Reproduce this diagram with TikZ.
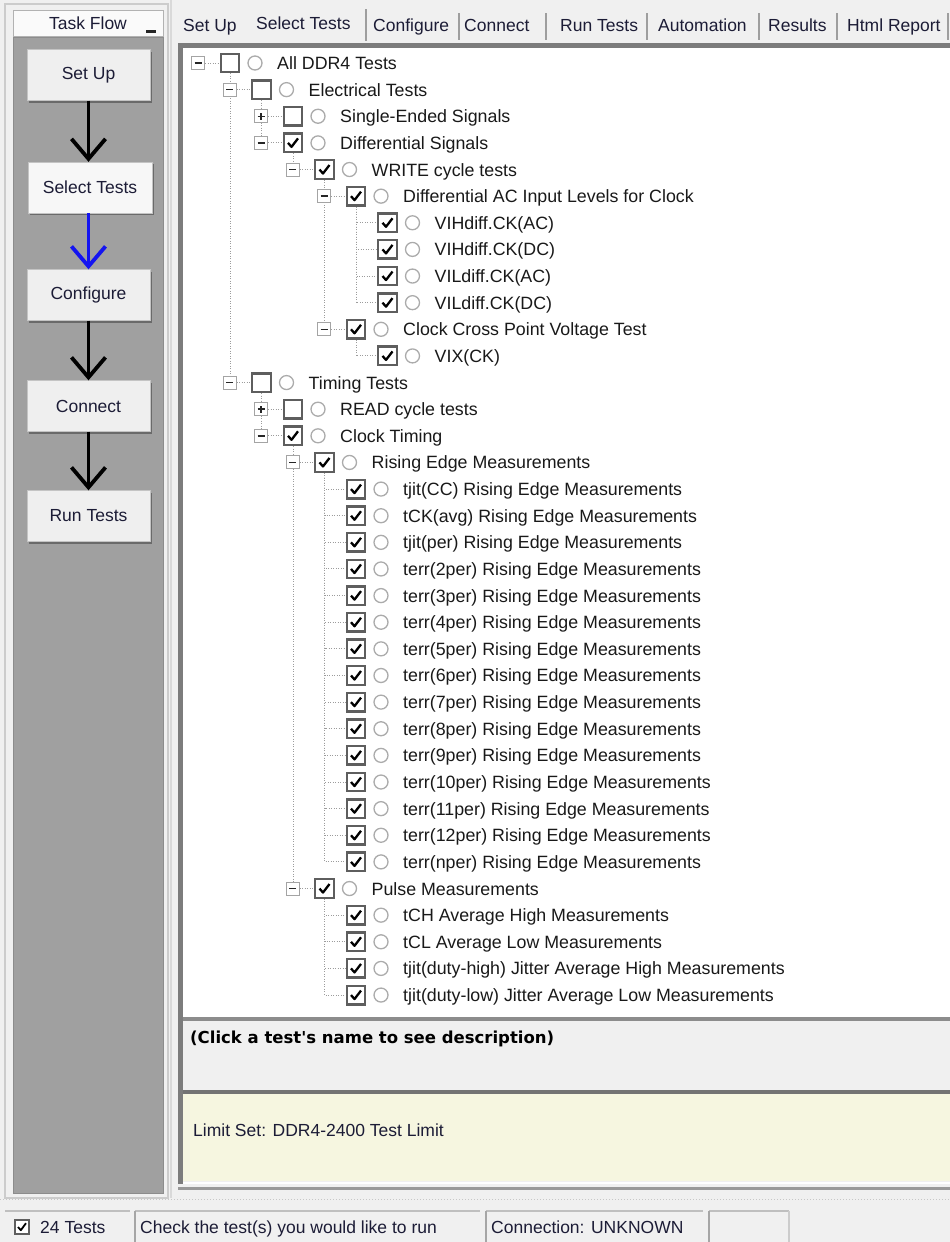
\documentclass[tikz,border=0pt]{standalone}
\usepackage{fontspec}
\setmainfont{Liberation Sans}
\newfontfamily\descfont{DejaVu Sans}
\usetikzlibrary{arrows.meta,shadows}

\definecolor{winbg}{HTML}{F0F0F0}
\definecolor{panelgray}{HTML}{A0A0A0}
\definecolor{framedark}{HTML}{7C7C7C}
\definecolor{limitbg}{HTML}{F6F6E0}
\definecolor{btnface}{HTML}{EFEFEF}
\definecolor{btnedge}{HTML}{C4C4C4}
\definecolor{btnshadow}{HTML}{6A6A6A}
\definecolor{uitext}{HTML}{1C1C36}
\definecolor{treeline}{HTML}{9C9C9C}
\definecolor{boxedge}{HTML}{5E5E5E}
\definecolor{radioedge}{HTML}{ABABAB}
\definecolor{expedge}{HTML}{A4A4A4}
\definecolor{sepgray}{HTML}{9E9E9E}
\definecolor{flowblue}{HTML}{1414F0}

\pgfdeclarelayer{base}
\pgfdeclarelayer{lines}
\pgfsetlayers{base,lines,main}

% one row of the test tree: name, row index, depth, checked (0/1), label
\newcommand\tvrow[5]{%
  \pgfmathsetmacro\tvy{63+26.63*#2}%
  \pgfmathsetmacro\tvx{230+31.5*#3}%
  \node[cbox] (#1) at (\tvx,\tvy) {};
  \ifnum#4=1 \draw[checkmark] (#1.center) ++(-5,0) -- ++(3.5,4) -- ++(6.5,-8.5);\fi
  \node[radiob] (#1-r) at (\tvx+25,\tvy) {};
  \node[tvtext] (#1-t) at (\tvx+47,\tvy+6.5) {#5};
}
% expand/collapse box left of a row: name, 0 = minus, 1 = plus
\newcommand\tvexp[2]{%
  \node[expbox] (#1-x) at ([xshift=-32pt]#1.center) {};
  \draw[expsign] ([xshift=-3.5pt]#1-x.center) -- ([xshift=3.5pt]#1-x.center);
  \ifnum#2=1 \draw[expsign] ([yshift=-3.5pt]#1-x.center) -- ([yshift=3.5pt]#1-x.center);\fi
}

\begin{document}
\begin{tikzpicture}[x=1pt,y=-1pt,
  font=\fontsize{17.5}{20}\selectfont,
  btn/.style={draw=btnedge, fill=btnface, minimum width=123pt, minimum height=51pt,
    inner sep=0pt, text=uitext,
    general shadow={fill=btnshadow, shadow xshift=2pt, shadow yshift=-2pt}},
  flowarrow/.style={line width=3.8pt, -{Straight Barb[length=20pt,width=34pt]}},
  tab/.style={anchor=base west, inner sep=0pt, text=uitext},
  cbox/.style={draw=boxedge, line width=2.4pt, fill=white, minimum size=18.5pt, inner sep=0pt},
  checkmark/.style={line width=2.3pt, line join=round, black},
  radiob/.style={circle, draw=radioedge, line width=1.3pt, fill=white, minimum size=14pt, inner sep=0pt},
  expbox/.style={draw=expedge, line width=1pt, fill=white, minimum size=13pt, inner sep=0pt},
  expsign/.style={line width=1.5pt, black!85},
  tvtext/.style={anchor=base west, inner sep=0pt, text=black!90, font=\fontsize{17.8}{20}\selectfont},
  tline/.style={draw=treeline, line width=1pt, dash pattern=on 1pt off 1.5pt},
  stext/.style={anchor=base west, inner sep=0pt, text=uitext},
  sepline/.style={draw=sepgray, line width=1.6pt}
]
\useasboundingbox (0,0) rectangle (950,1242);

% ---------- window surfaces ----------
\begin{pgfonlayer}{base}
  \fill[winbg] (0,0) rectangle (950,1242);
  % task flow panel
  \draw[line width=1.2pt, draw=black!20] (5,4) rectangle (168,1198);
  \fill[panelgray] (13,37) rectangle (163,1193);
  \draw[black!45, line width=1pt] (13,37) rectangle (163,1193);
  \draw[black!15, line width=1.2pt] (171,0) -- (171,1198);
  % test tree area
  \fill[white] (183,48) rectangle (950,1018);
  \fill[framedark] (178,43) rectangle (950,48);
  \fill[framedark] (178,43) rectangle (183,1184);
  % description area
  \fill[black!45] (183,1017) rectangle (950,1021);
  % limit set area
  \fill[limitbg] (183,1093) rectangle (950,1181);
  \fill[black!55] (183,1090) rectangle (950,1094);
  \draw[white, line width=2pt] (183,1183) -- (950,1183);
  \draw[black!40, line width=3pt] (178,1188.5) -- (950,1188.5);
  \draw[black!22, line width=1pt, dash pattern=on 1pt off 2pt] (0,1199) -- (950,1199);
  % status bar fields
  \draw[black!25, line width=1.5pt] (5,1211) -- (130,1211);
  \draw[black!25, line width=1.5pt] (135,1211) -- (480,1211);
  \draw[black!25, line width=1.5pt] (486,1211) -- (703,1211);
  \draw[black!25, line width=1.5pt] (709,1211) -- (789,1211);
  \draw[black!35, line width=1.5pt] (135,1211) -- (135,1242);
  \draw[black!35, line width=1.5pt] (486,1211) -- (486,1242);
  \draw[black!35, line width=1.5pt] (709,1211) -- (709,1242);
  \draw[black!20, line width=1.5pt] (789,1211) -- (789,1242);
\end{pgfonlayer}

% ---------- task flow ----------
\node[draw=black!30, fill=white!98!black, minimum width=150pt, minimum height=26pt,
      inner sep=0pt, text=uitext] (tf) at (88,23) {Task Flow};
\node[fill=black!85, minimum width=10pt, minimum height=3pt, inner sep=0pt] (tfmin) at (151,31) {};

\node[btn] (setup)   at (88.5,75)  {Set Up};
\node[btn, fill=white!97!black, minimum width=124pt] (select) at (90,187.5) {Select Tests};
\node[btn] (config)  at (88.5,295) {Configure};
\node[btn] (connect) at (88.5,406) {Connect};
\node[btn] (run)     at (88.5,516) {Run Tests};

\draw[flowarrow] (setup.south) -- (setup.south |- select.north);
\draw[flowarrow, flowblue] (setup.south |- select.south) -- (setup.south |- config.north);
\draw[flowarrow] (config.south) -- (connect.north);
\draw[flowarrow] (connect.south) -- (run.north);

% ---------- tabs ----------
\node[tab] (tab1) at (183,31) {Set Up};
\node[tab] (tab2) at (256,29) {Select Tests};
\node[tab] (tab3) at (373,31) {Configure};
\node[tab] (tab4) at (464,31) {Connect};
\node[tab] (tab5) at (560,31) {Run Tests};
\node[tab] (tab6) at (658,31) {Automation};
\node[tab] (tab7) at (768,31) {Results};
\node[tab] (tab8) at (847,31) {Html Report};
\draw[sepline] (366,9) -- (366,41);
\foreach \sx in {459,546,647,759,837,948}
  \draw[sepline] (\sx,13) -- (\sx,40);

% ---------- test tree ----------
\tvrow{r0}{0}{0}{0}{All DDR4 Tests}
\tvrow{r1}{1}{1}{0}{Electrical Tests}
\tvrow{r2}{2}{2}{0}{Single-Ended Signals}
\tvrow{r3}{3}{2}{1}{Differential Signals}
\tvrow{r4}{4}{3}{1}{WRITE cycle tests}
\tvrow{r5}{5}{4}{1}{Differential AC Input Levels for Clock}
\tvrow{r6}{6}{5}{1}{VIHdiff.CK(AC)}
\tvrow{r7}{7}{5}{1}{VIHdiff.CK(DC)}
\tvrow{r8}{8}{5}{1}{VILdiff.CK(AC)}
\tvrow{r9}{9}{5}{1}{VILdiff.CK(DC)}
\tvrow{r10}{10}{4}{1}{Clock Cross Point Voltage Test}
\tvrow{r11}{11}{5}{1}{VIX(CK)}
\tvrow{r12}{12}{1}{0}{Timing Tests}
\tvrow{r13}{13}{2}{0}{READ cycle tests}
\tvrow{r14}{14}{2}{1}{Clock Timing}
\tvrow{r15}{15}{3}{1}{Rising Edge Measurements}
\tvrow{r16}{16}{4}{1}{tjit(CC) Rising Edge Measurements}
\tvrow{r17}{17}{4}{1}{tCK(avg) Rising Edge Measurements}
\tvrow{r18}{18}{4}{1}{tjit(per) Rising Edge Measurements}
\foreach \n [evaluate=\n as \rw using int(17+\n)] in {2,...,12}
  {\tvrow{r\rw}{\rw}{4}{1}{terr(\n per) Rising Edge Measurements}}
\tvrow{r30}{30}{4}{1}{terr(nper) Rising Edge Measurements}
\tvrow{r31}{31}{3}{1}{Pulse Measurements}
\tvrow{r32}{32}{4}{1}{tCH Average High Measurements}
\tvrow{r33}{33}{4}{1}{tCL Average Low Measurements}
\tvrow{r34}{34}{4}{1}{tjit(duty-high) Jitter Average High Measurements}
\tvrow{r35}{35}{4}{1}{tjit(duty-low) Jitter Average Low Measurements}

\tvexp{r0}{0}
\tvexp{r1}{0}
\tvexp{r2}{1}
\tvexp{r3}{0}
\tvexp{r4}{0}
\tvexp{r5}{0}
\tvexp{r10}{0}
\tvexp{r12}{0}
\tvexp{r13}{1}
\tvexp{r14}{0}
\tvexp{r15}{0}
\tvexp{r31}{0}

% dotted hierarchy lines, kept behind the boxes
\begin{pgfonlayer}{lines}
  \draw[tline] (r0-x) -- (r0);
  \foreach \p/\c in {r0/r1,r0/r12,r1/r2,r1/r3,r3/r4,r4/r5,r4/r10,r12/r13,r12/r14,r14/r15,r14/r31}
    {\draw[tline] (\p) |- (\c-x); \draw[tline] (\c-x) -- (\c);}
  \foreach \c in {r6,r7,r8,r9} {\draw[tline] (r5) |- (\c);}
  \draw[tline] (r10) |- (r11);
  \foreach \k in {16,...,30} {\draw[tline] (r15) |- (r\k);}
  \foreach \k in {32,...,35} {\draw[tline] (r31) |- (r\k);}
\end{pgfonlayer}

% ---------- description and limit set ----------
\node[stext, font=\descfont\fontsize{16.5}{20}\selectfont\bfseries, text=black] (desc) at (190,1043)
  {(Click a test\textquotesingle s name to see description)};
\node[stext] (limit) at (193,1136) {Limit Set: DDR4-2400 Test Limit};

% ---------- status bar ----------
\node[draw=boxedge, line width=1.5pt, fill=white, minimum size=14pt, inner sep=0pt] (scb) at (22,1227) {};
\draw[line width=1.8pt, line join=round] (scb.center) ++(-4,0) -- ++(2.8,3.2) -- ++(5.2,-7);
\node[stext] (count) at (40,1233) {24 Tests};
\node[stext] (hint) at (140,1233) {Check the test(s) you would like to run};
\node[stext] (conn) at (491,1233) {Connection: UNKNOWN};
\end{tikzpicture}
\end{document}
